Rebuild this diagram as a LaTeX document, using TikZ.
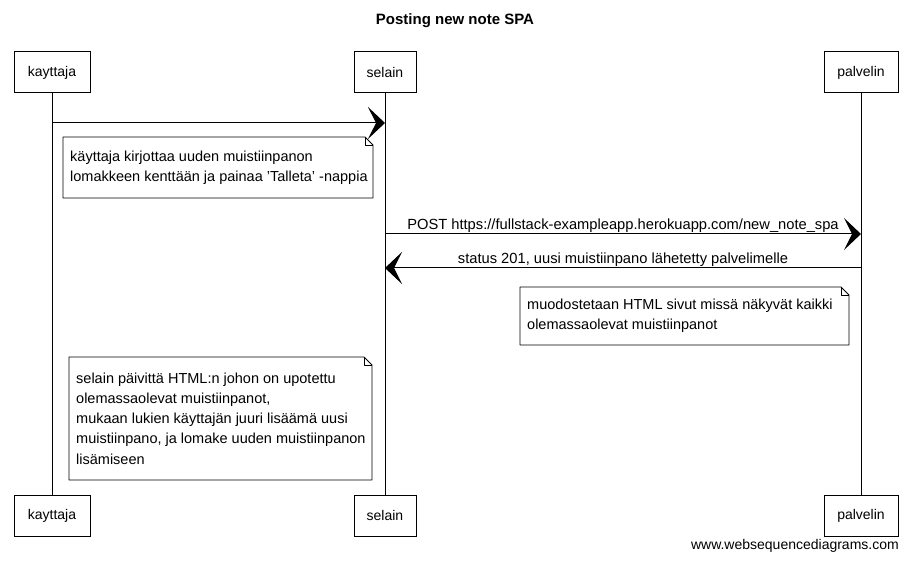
\documentclass[tikz,border=0pt]{standalone}
\usepackage{fontspec}
\setmainfont{Liberation Sans}
\usetikzlibrary{arrows.meta}
\tikzset{
  participant/.style={draw, line width=1pt, fill=white, inner sep=0pt, font=\fontsize{14}{16}\selectfont, minimum height=41pt},
  lifeline/.style={draw, line width=0.9pt},
  msg/.style={draw, line width=1pt, -{Stealth[length=17pt,width=32pt,inset=8pt]}},
  msglabel/.style={midway, above, inner sep=1pt, font=\fontsize{14.7}{16}\selectfont},
  notebox/.style={draw, line width=0.9pt, fill=white, line join=round},
  notetext/.style={align=left, inner sep=0pt, font=\fontsize{14.5}{20.3}\selectfont},
}
\newcommand\mynote[6]{%
  \draw[notebox] (#2,#3) -- (#4-8,#3) -- (#4,#3+8) -- (#4,#5) -- (#2,#5) -- cycle;
  \draw[notebox, fill=none] (#4-8,#3) -- (#4-8,#3+8) -- (#4,#3+8);
  \node[notetext, anchor=west] (#1) at (#2+7, {(#3+#5)/2}) {#6};
}
\begin{document}
\begin{tikzpicture}[x=1pt, y=-1pt]
\useasboundingbox[fill=white] (0,0) rectangle (910,561);

\node[font=\bfseries\fontsize{15}{17}\selectfont] (title) at (455,21) {Posting new note SPA};

% participants top
\node[participant, minimum width=76pt] (kt) at (52,72.5) {kayttaja};
\node[participant, minimum width=62pt] (st) at (385,72.5) {selain};
\node[participant, minimum width=74pt] (pt) at (861,72.5) {palvelin};
% participants bottom
\node[participant, minimum width=76pt] (kb) at (52,515.5) {kayttaja};
\node[participant, minimum width=62pt] (sb) at (385,515.5) {selain};
\node[participant, minimum width=74pt] (pb) at (861,515.5) {palvelin};

% lifelines
\draw[lifeline] (kt.south) -- (kb.north);
\draw[lifeline] (st.south) -- (sb.north);
\draw[lifeline] (pt.south) -- (pb.north);

% message anchors
\coordinate (k1) at (53,123);
\coordinate (s1) at (385,123);
\coordinate (s2) at (385,234);
\coordinate (p2) at (861,234);
\coordinate (p3) at (861,268);
\coordinate (s3) at (385,268);

\draw[msg] (k1) -- (s1);
\mynote{n1}{63}{137}{373}{198}{käyttaja kirjottaa uuden muistiinpanon\\lomakkeen kenttään ja painaa 'Talleta' -nappia}

\draw[msg] (s2) -- node[msglabel] (l2) {POST https://fullstack-exampleapp.herokuapp.com/new\_note\_spa} (p2);
\draw[msg] (p3) -- node[msglabel] (l3) {status 201, uusi muistiinpano lähetetty palvelimelle} (s3);

\mynote{n2}{520}{287}{849}{345}{muodostetaan HTML sivut missä näkyvät kaikki\\olemassaolevat muistiinpanot}

\mynote{n3}{69}{357}{372}{480}{selain päivittä HTML:n johon on upotettu\\olemassaolevat muistiinpanot,\\mukaan lukien käyttajän juuri lisäämä uusi\\muistiinpano, ja lomake uuden muistiinpanon\\lisämiseen}

\node[anchor=east, font=\fontsize{14}{16}\selectfont, inner sep=0pt] (footer) at (899,546) {www.websequencediagrams.com};
\end{tikzpicture}
\end{document}
